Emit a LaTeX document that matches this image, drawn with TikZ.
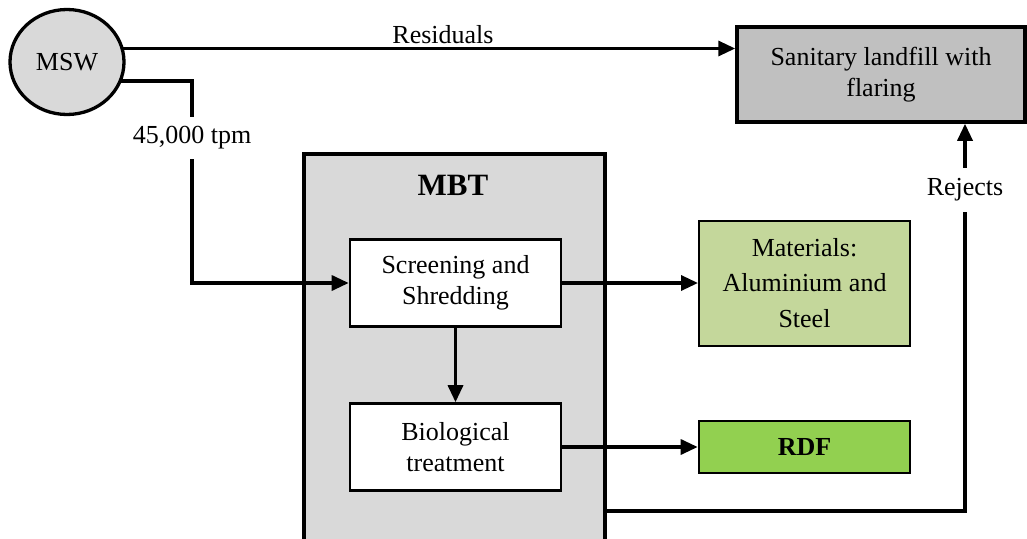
\documentclass[tikz,border=0pt]{standalone}
\usepackage{fontspec}
\setmainfont{Liberation Serif}
\usetikzlibrary{arrows.meta,calc,shapes.geometric}
\pgfdeclarelayer{bg}
\pgfdeclarelayer{mid}
\pgfsetlayers{bg,mid,main}
\definecolor{boxgray}{RGB}{192,192,192}
\definecolor{mbtgray}{RGB}{217,217,217}
\definecolor{matgreen}{RGB}{196,215,155}
\definecolor{rdfgreen}{RGB}{146,208,80}
\tikzset{
  txt/.style={font=\fontsize{26}{31}\selectfont, align=center, inner sep=0pt},
  procbox/.style={txt, draw, line width=2.6pt, fill=white, minimum width=211pt, minimum height=87pt},
  flow/.style={line width=3.3pt, -{Triangle[length=17pt,width=15pt]}},
  gaplabel/.style={txt, fill=white, inner ysep=10pt, inner xsep=2pt},
}
\begin{document}
\begin{tikzpicture}[x=1pt,y=-1pt]
\useasboundingbox (0,0) rectangle (1027,538);

% MBT enclosure
\begin{pgfonlayer}{bg}
\node[draw, line width=3.5pt, fill=mbtgray, minimum width=301pt, minimum height=400pt, inner sep=0pt, anchor=north west] (mbt) at (302,152) {};
\end{pgfonlayer}
\node[font=\fontsize{31}{36}\selectfont\bfseries, inner sep=0pt] (mbtlabel) at (453,185) {MBT};

% source (drawn on the main layer, above the lines leaving it)
\node[txt, draw, line width=3.3pt, fill=mbtgray, ellipse, minimum width=114pt, minimum height=105pt] (msw) at (67,62) {MSW};

% destinations and process steps
\node[txt, draw, line width=3.5pt, fill=boxgray, minimum width=288pt, minimum height=95pt] (landfill) at (881,74.5) {Sanitary landfill with\\flaring};
\node[procbox] (screen) at (455.5,283) {Screening and\\Shredding};
\node[procbox] (bio) at (455.5,447) {Biological\\treatment};
\node[txt, draw, line width=2pt, fill=matgreen, minimum width=211pt, minimum height=125pt, font=\fontsize{26}{35.5}\selectfont] (mat) at (804.5,283) {Materials:\\Aluminium and\\Steel};
\node[txt, draw, line width=2.6pt, fill=rdfgreen, minimum width=211pt, minimum height=52pt, font=\fontsize{26}{31}\selectfont\bfseries] (rdf) at (804.5,447) {RDF};

% helper points
\coordinate (resStart) at ($(msw.center)+(0,-13.5)$);
\coordinate (feedStart) at ($(msw.center)+(0,19)$);
\coordinate (feedCorner) at (192,81);
\coordinate (rejCorner) at (965,511);
\coordinate (rejOut) at (603,511);

\begin{pgfonlayer}{mid}
\draw[flow] (resStart) -- (resStart -| landfill.west);
\draw[flow] (feedStart) -- (feedCorner) |- (screen.west);
\draw[flow] (screen.south) -- (bio.north);
\draw[flow] (screen.east) -- (screen.east -| mat.west);
\draw[flow] (bio.east) -- (bio.east -| rdf.west);
\draw[flow] (rejOut) -- (rejCorner) -- (rejCorner |- landfill.south);
\end{pgfonlayer}

% labels
\node[txt] (resLabel) at (443,35) {Residuals};
\node[gaplabel] (tpm) at (192,138) {45,000 tpm};
\node[gaplabel, inner ysep=11pt] (rej) at (965,190) {Rejects};
\end{tikzpicture}
\end{document}
